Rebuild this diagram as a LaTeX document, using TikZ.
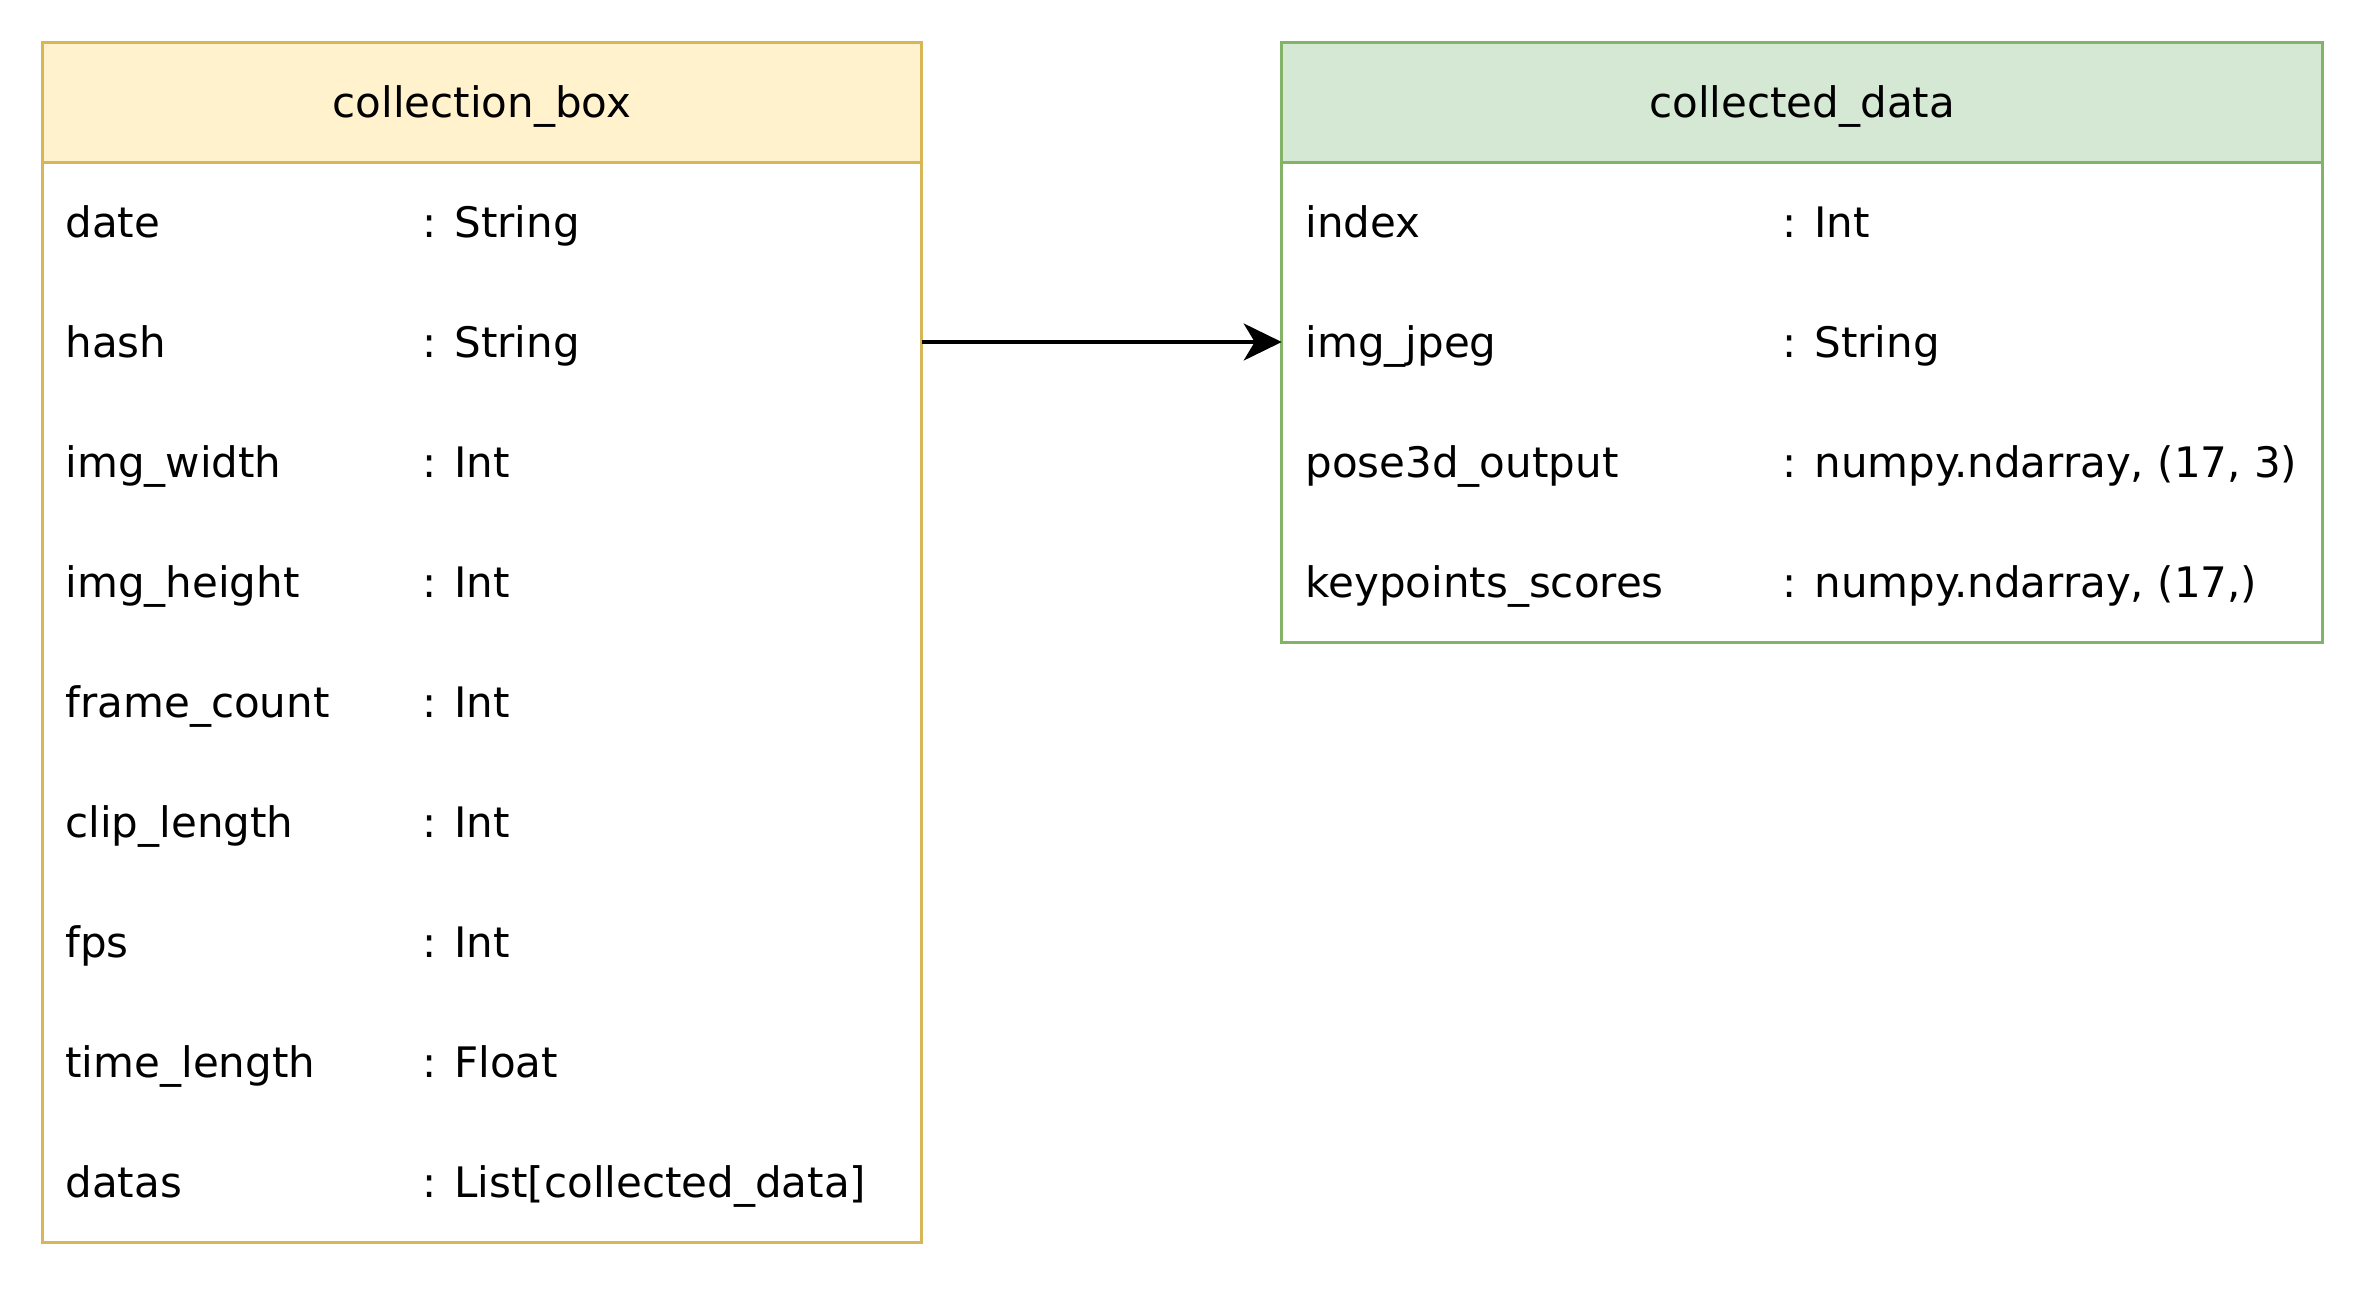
\documentclass[tikz,border=0pt]{standalone}
\usepackage{fontspec}
\setmainfont{DejaVu Sans}
\usetikzlibrary{arrows.meta}
\definecolor{yfill}{HTML}{FFF2CC}
\definecolor{ystroke}{HTML}{D6B656}
\definecolor{gfill}{HTML}{D5E8D4}
\definecolor{gstroke}{HTML}{82B366}
\begin{document}
\begin{tikzpicture}[x=1pt,y=-1pt,line width=3pt,
  font=\fontsize{42}{50}\selectfont,
  boxpart/.style={anchor=north west,inner sep=0pt,outer sep=0pt,minimum height=#1},
  rowslot/.style={anchor=west,inner sep=0pt,outer sep=0pt,minimum height=120pt},
  txt/.style={anchor=base west,inner sep=0pt},
  title/.style={anchor=base,inner sep=0pt}]
\useasboundingbox (0,0) rectangle (2364,1288);
% left class
\node[boxpart=120pt,minimum width=879.5pt,draw=ystroke,fill=yfill] (cbh) at (42,42) {};
\node[boxpart=1080pt,minimum width=879.5pt,draw=ystroke,fill=white] (cbb) at (42,162) {};
\node[title] (cbt) at (481.75,117) {collection\_box};
% right class
\node[boxpart=120pt,minimum width=1040.8pt,draw=gstroke,fill=gfill] (cdh) at (1281.7,42) {};
\node[boxpart=480pt,minimum width=1040.8pt,draw=gstroke,fill=white] (cdb) at (1281.7,162) {};
\node[title] (cdt) at (1802.1,117) {collected\_data};
% left fields
\foreach \i/\n/\t in {0/date/String,1/hash/String,2/img\_width/Int,3/img\_height/Int,
  4/frame\_count/Int,5/clip\_length/Int,6/fps/Int,7/time\_length/Float,8/datas/List[collected\_data]}{
  \node[rowslot,minimum width=879.5pt] (lrow\i) at (42,222+120*\i) {};
  \node[txt] (lname\i) at (64,237.5+120*\i) {\n};
  \node[txt] (ltype\i) at (421,237.5+120*\i) {: \t};
}
% right fields
\foreach \i/\n/\t in {0/index/Int,1/img\_jpeg/String,2/pose3d\_output/{numpy.ndarray, (17, 3)},3/keypoints\_scores/{numpy.ndarray, (17,)}}{
  \node[rowslot,minimum width=1040.8pt] (rrow\i) at (1281.7,222+120*\i) {};
  \node[txt] (rname\i) at (1304,237.5+120*\i) {\n};
  \node[txt] (rtype\i) at (1781,237.5+120*\i) {: \t};
}
\draw[line width=3.5pt,-{Stealth[length=38pt,width=37pt,inset=11pt]}] (lrow1.east) -- (rrow1.west);
\end{tikzpicture}
\end{document}
